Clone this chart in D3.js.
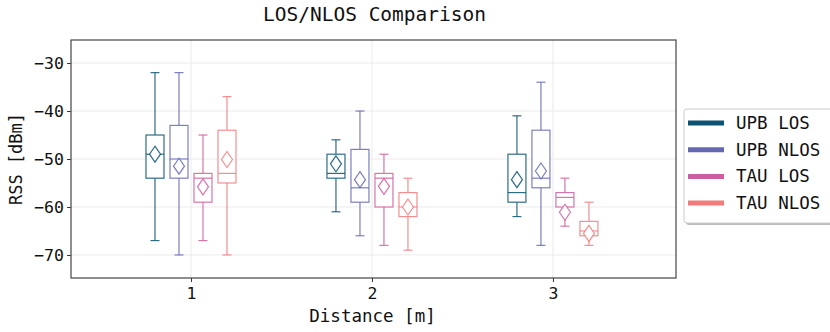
<!DOCTYPE html>
<html lang="en">
<head>
<meta charset="UTF-8"/>
<title>LOS/NLOS Comparison</title>
<script src="https://d3js.org/d3.v7.min.js"></script>
<style>
	body { margin: 0; background: #fff; }
	text { font-family: "DejaVu Sans Mono", monospace; fill: #111; }
	.grid line { stroke: #ebebeb; stroke-width: 1; }
</style>
</head>
<body>
<div id="chart"></div>
<script>
var w = 830, h = 332;
var mLeft = 71, mRight = 676, mTop = 40, mBottom = 278;

var distances = [1, 2, 3];
var series = ["UPB LOS", "UPB NLOS", "TAU LOS", "TAU NLOS"];
var colors = ["#0b5370", "#6468b2", "#cc5fa0", "#f07c7c"];

// per series: [whiskerLow, q1, median, q3, whiskerHigh, mean] for distances 1, 2, 3
var upbLos  = [[-67, -54, -49, -45, -32, -49],   [-61, -54, -53, -49, -46, -51],   [-62, -59, -57, -49, -41, -54.3]];
var upbNlos = [[-70, -54, -50, -43, -32, -51.5], [-66, -59, -56, -48, -40, -54.3], [-68, -56, -54, -44, -34, -52.5]];
var tauLos  = [[-67, -59, -54, -53, -45, -55.8], [-68, -60, -54, -53, -49, -55.7], [-64, -60, -58, -57, -54, -61.1]];
var tauNlos = [[-70, -55, -53, -44, -37, -50.1], [-69, -62, -60, -57, -54, -60],   [-68, -66, -65, -63, -59, -65.5]];
var stats = [upbLos, upbNlos, tauLos, tauNlos];

var yTicks = [-70, -60, -50, -40, -30];

var svg = d3.select("#chart").append("svg")
	.attr("width", w).attr("height", h);

var xScale = d3.scaleLinear().domain([0.337, 3.68]).range([mLeft, mRight]);
var yScale = d3.scaleLinear().domain([-74.8, -25.2]).range([mBottom, mTop]);
var offset = d3.scalePoint().domain(series).range([-36, 36]);
var boxW = 18;

// grid
svg.append("g").attr("class", "grid")
	.selectAll("line").data(yTicks).enter().append("line")
	.attr("x1", mLeft).attr("x2", mRight)
	.attr("y1", function(d){ return yScale(d); })
	.attr("y2", function(d){ return yScale(d); });
svg.append("g").attr("class", "grid")
	.selectAll("line").data(distances).enter().append("line")
	.attr("y1", mTop).attr("y2", mBottom)
	.attr("x1", function(d){ return xScale(d); })
	.attr("x2", function(d){ return xScale(d); });

// boxes
series.forEach(function(s, si){
	var g = svg.append("g")
		.attr("stroke", colors[si])
		.attr("stroke-opacity", 0.85)
		.attr("stroke-width", 1.2)
		.attr("fill", "none");
	stats[si].forEach(function(st, di){
		var cx = xScale(distances[di]) + offset(s);
		var lo = st[0], q1 = st[1], med = st[2], q3 = st[3], hi = st[4], mean = st[5];
		g.append("line").attr("x1", cx).attr("x2", cx).attr("y1", yScale(hi)).attr("y2", yScale(q3));
		g.append("line").attr("x1", cx).attr("x2", cx).attr("y1", yScale(q1)).attr("y2", yScale(lo));
		g.append("line").attr("x1", cx - boxW / 4).attr("x2", cx + boxW / 4).attr("y1", yScale(hi)).attr("y2", yScale(hi));
		g.append("line").attr("x1", cx - boxW / 4).attr("x2", cx + boxW / 4).attr("y1", yScale(lo)).attr("y2", yScale(lo));
		g.append("rect").attr("x", cx - boxW / 2).attr("width", boxW)
			.attr("y", yScale(q3)).attr("height", yScale(q1) - yScale(q3))
			.attr("fill", "#fff");
		g.append("line").attr("x1", cx - boxW / 2).attr("x2", cx + boxW / 2).attr("y1", yScale(med)).attr("y2", yScale(med));
		var my = yScale(mean);
		g.append("path")
			.attr("d", "M" + cx + "," + (my - 8) + "L" + (cx + 5.5) + "," + my + "L" + cx + "," + (my + 8) + "L" + (cx - 5.5) + "," + my + "Z")
			.attr("fill", "#fff");
	});
});

// axes
var xAxis = d3.axisBottom(xScale).tickValues(distances).tickSize(4).tickPadding(5).tickFormat(d3.format("d"));
var yAxis = d3.axisLeft(yScale).tickValues(yTicks).tickSize(4).tickPadding(3).tickFormat(function(d){ return "\u2212" + Math.abs(d); });

svg.append("g").attr("transform", "translate(0," + mBottom + ")").call(xAxis)
	.call(function(g){ g.select(".domain").remove(); });
svg.append("g").attr("transform", "translate(" + mLeft + ",0)").call(yAxis)
	.call(function(g){ g.select(".domain").remove(); });
svg.selectAll(".tick line").attr("stroke", "#333");
svg.selectAll(".tick text")
	.style("font-family", "DejaVu Sans Mono, monospace")
	.style("font-size", "16.5px")
	.style("fill", "#111");

svg.append("rect")
	.attr("x", mLeft).attr("y", mTop)
	.attr("width", mRight - mLeft).attr("height", mBottom - mTop)
	.attr("fill", "none").attr("stroke", "#444").attr("stroke-width", 1.2);

// titles
svg.append("text").attr("x", (mLeft + mRight) / 2 + 1).attr("y", 21)
	.attr("text-anchor", "middle").style("font-size", "19.5px").text("LOS/NLOS Comparison");
svg.append("text").attr("x", (mLeft + mRight) / 2 - 1).attr("y", 322)
	.attr("text-anchor", "middle").style("font-size", "17.5px").text("Distance [m]");
svg.append("text").attr("transform", "translate(22," + ((mTop + mBottom) / 2) + ") rotate(-90)")
	.attr("text-anchor", "middle").style("font-size", "17px").text("RSS [dBm]");

// legend
var legend = svg.append("g").attr("transform", "translate(684,109)");
legend.append("rect").attr("x", 2).attr("y", 2).attr("width", 160).attr("height", 114).attr("rx", 3)
	.attr("fill", "#bbb");
legend.append("rect").attr("width", 160).attr("height", 114).attr("rx", 3)
	.attr("fill", "#fff").attr("stroke", "#ccc");
series.forEach(function(s, i){
	var ly = 14 + i * 26.7;
	legend.append("line").attr("x1", 4).attr("x2", 40).attr("y1", ly).attr("y2", ly)
		.attr("stroke", colors[i]).attr("stroke-width", 5);
	legend.append("text").attr("x", 52).attr("y", ly + 6).style("font-size", "17.5px").text(s);
});
</script>
</body>
</html>
